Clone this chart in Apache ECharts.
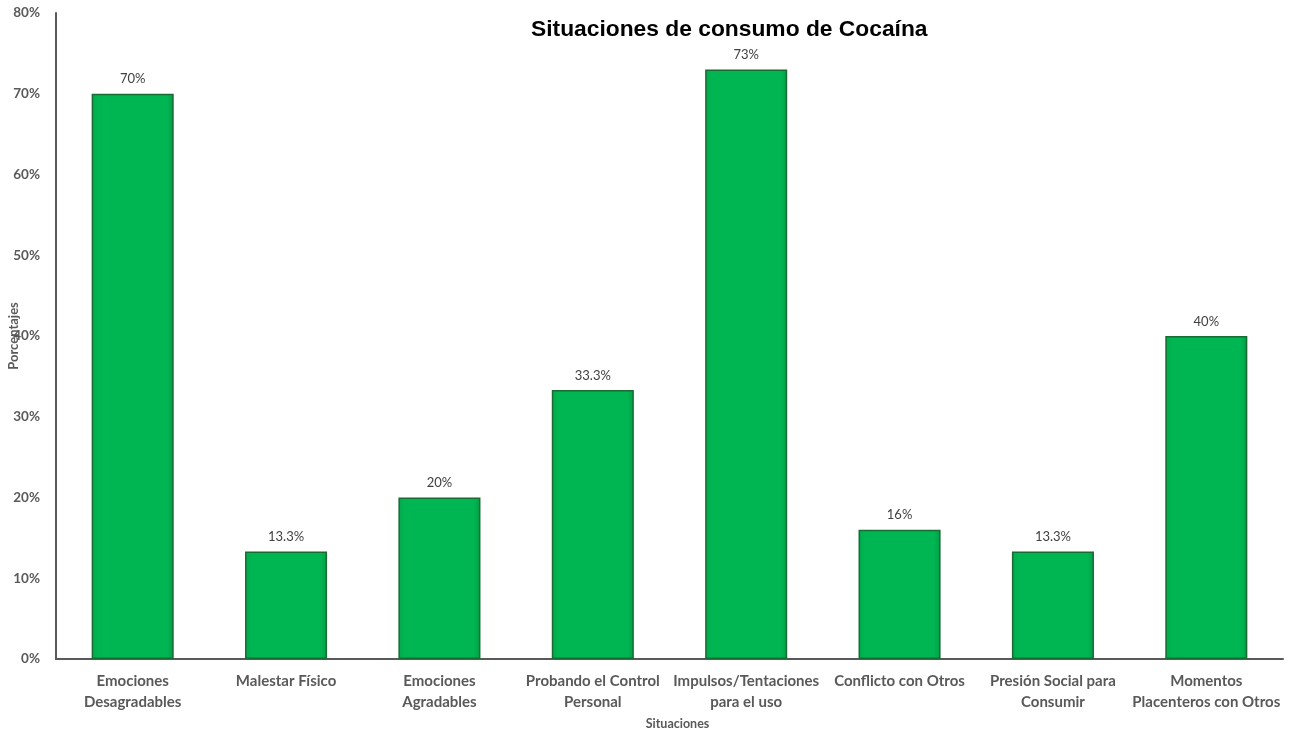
<!DOCTYPE html>
<html><head><meta charset="utf-8">
<script src="https://cdn.jsdelivr.net/npm/echarts@6/dist/echarts.min.js"></script>
<style>html,body{margin:0;padding:0;background:#fff}#c{width:1299px;height:732px}</style>
</head><body><div id="c"></div>
<script>
const categories = ["Emociones\nDesagradables","Malestar Físico","Emociones\nAgradables","Probando el Control\nPersonal","Impulsos/Tentaciones\npara el uso","Conflicto con Otros","Presión Social para\nConsumir","Momentos\nPlacenteros con Otros"];
const values = [70, 13.3, 20, 33.3, 73, 16, 13.3, 40];
const valueLabels = ["70%","13.3%","20%","33.3%","73%","16%","13.3%","40%"];
const yTicks = [0,10,20,30,40,50,60,70,80];

const chart = echarts.init(document.getElementById('c'));
chart.setOption({
  animation:false,
  title:{text:'Situaciones de consumo de Cocaína',left:526,top:13,textStyle:{fontFamily:'Liberation Sans',fontWeight:'bold',fontSize:22.8,color:'#000'}},
  grid:{left:56,right:16,top:13,bottom:73,containLabel:false,outerBoundsMode:'none'},
  xAxis:{type:'category',data:categories,
    name:'Situaciones',nameLocation:'middle',nameGap:58,
    nameTextStyle:{fontFamily:'Lato',fontWeight:'bold',fontSize:12.5,color:'#595959',padding:[0,0,0,16]},
    axisLine:{lineStyle:{color:'#595959',width:2}},axisTick:{show:false},
    axisLabel:{interval:0,fontFamily:'Lato',fontWeight:'bold',fontSize:15,color:'#595959',lineHeight:21,margin:12}},
  yAxis:{type:'value',min:yTicks[0],max:yTicks[yTicks.length-1],interval:10,
    name:'Porcentajes',nameLocation:'middle',nameGap:36,nameRotate:90,nameMoveOverlap:false,
    nameTextStyle:{fontFamily:'Lato',fontWeight:'bold',fontSize:13,color:'#595959'},
    axisLine:{show:true,lineStyle:{color:'#595959',width:2}},axisTick:{show:false},splitLine:{show:false},
    axisLabel:{fontFamily:'Lato',fontWeight:'bold',fontSize:13.5,color:'#595959',margin:16,formatter:v=>v+'%'}},
  series:[{type:'bar',data:values,barWidth:'53.5%',
    itemStyle:{color:{type:'linear',x:0,y:0,x2:1,y2:0,colorStops:[{offset:0,color:'#04a84b'},{offset:0.08,color:'#00b652'},{offset:0.92,color:'#00b652'},{offset:1,color:'#029d45'}]},borderColor:'#176b33',borderWidth:1.5},
    label:{show:true,position:'top',distance:8,fontFamily:'Lato',fontSize:13,color:'#404040',formatter:p=>valueLabels[p.dataIndex]}}]
});
</script></body></html>
